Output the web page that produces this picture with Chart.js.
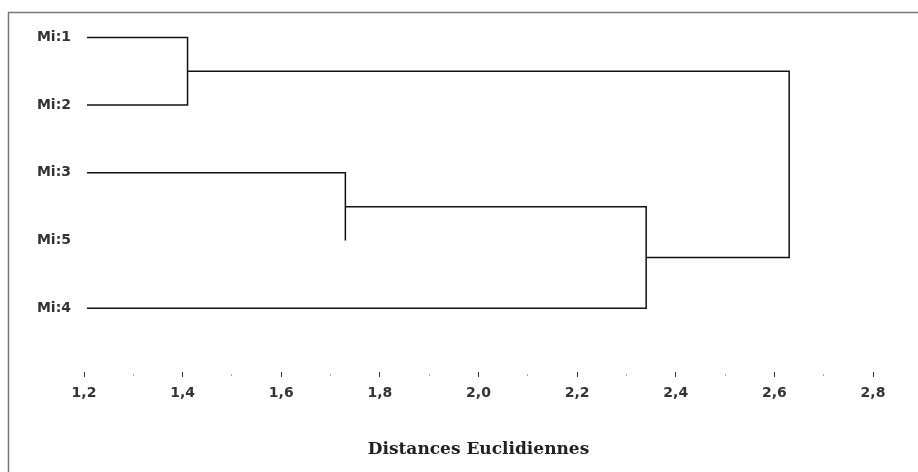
<!DOCTYPE html>
<html>
<head>
<meta charset="utf-8">
<script src="https://cdn.jsdelivr.net/npm/chart.js@4/dist/chart.umd.min.js"></script>
<style>
  body { margin: 0; background: #fff; }
</style>
</head>
<body>
<canvas id="dendro" width="918" height="472"></canvas>
<script>
// feuilles dans l'ordre d'affichage (haut -> bas)
const leaves = ['Mi:1', 'Mi:2', 'Mi:3', 'Mi:5', 'Mi:4'];
const leafStart = 1.206;
// le trait horizontal de Mi:5 n'apparait pas sur l'original
const leafStem = [true, true, true, false, true];

// fusions : noeuds 0-4 = feuilles, 5.. = groupes
const mergePairs = [[0, 1], [2, 3], [6, 4], [5, 7]];
const mergeHeights = [1.41, 1.73, 2.34, 2.63];

const xTicks = [1.2, 1.3, 1.4, 1.5, 1.6, 1.7, 1.8, 1.9, 2.0, 2.1, 2.2, 2.3, 2.4, 2.5, 2.6, 2.7, 2.8];
const xLabels = ['1,2', '', '1,4', '', '1,6', '', '1,8', '', '2,0', '', '2,2', '', '2,4', '', '2,6', '', '2,8'];

// position de chaque noeud
const nodeX = leaves.map(() => leafStart);
const nodeY = leaves.map((_, i) => i);
const datasets = [];
mergePairs.forEach(([a, b], k) => {
    const h = mergeHeights[k];
    const pts = [];
    if (a >= leaves.length || leafStem[a]) pts.push({ x: nodeX[a], y: nodeY[a] });
    pts.push({ x: h, y: nodeY[a] });
    pts.push({ x: h, y: nodeY[b] });
    if (b >= leaves.length || leafStem[b]) pts.push({ x: nodeX[b], y: nodeY[b] });
    nodeX.push(h);
    nodeY.push((nodeY[a] + nodeY[b]) / 2);
    datasets.push({
        data: pts,
        showLine: true,
        borderColor: '#111',
        borderWidth: 1.5,
        pointRadius: 0,
        tension: 0,
        clip: false
    });
});

const frame = {
    id: 'frame',
    afterDraw(chart) {
        const c = chart.ctx;
        c.save();
        c.strokeStyle = '#777';
        c.lineWidth = 1.5;
        c.beginPath();
        c.moveTo(8.5, 472);
        c.lineTo(8.5, 12.5);
        c.lineTo(918, 12.5);
        c.stroke();
        c.restore();
    }
};

new Chart(document.getElementById('dendro'), {
    type: 'scatter',
    data: { datasets },
    plugins: [frame],
    options: {
        responsive: false,
        animation: false,
        layout: { padding: { top: 13, right: 45, left: 0, bottom: 0 } },
        plugins: { legend: { display: false }, tooltip: { enabled: false } },
        scales: {
            x: {
                type: 'linear',
                min: 1.2,
                max: 2.8,
                afterFit: s => { s.height = 100; },
                afterBuildTicks: s => { s.ticks = xTicks.map(v => ({ value: v })); },
                border: { display: false },
                grid: {
                    display: true,
                    drawOnChartArea: false,
                    drawTicks: true,
                    tickLength: 5,
                    tickWidth: 1,
                    tickColor: ctx => (ctx.index % 2 === 0 ? '#333' : '#aaa'),
                    tickBorderDash: ctx => (ctx.index % 2 === 0 ? [] : [0, 2, 2, 10])
                },
                ticks: {
                    padding: 8,
                    maxRotation: 0,
                    autoSkip: false,
                    color: '#333',
                    font: { family: 'DejaVu Sans', size: 14, weight: 'bold' },
                    callback: (v, i) => xLabels[i]
                },
                title: {
                    display: true,
                    text: 'Distances Euclidiennes',
                    color: '#222',
                    font: { family: 'DejaVu Serif', size: 17, weight: 'bold' },
                    padding: { top: 0, bottom: 12 }
                }
            },
            y: {
                type: 'linear',
                reverse: true,
                min: -0.36,
                max: 4.94,
                afterFit: s => { s.width = 84; s.paddingTop = 0; s.paddingBottom = 0; },
                afterBuildTicks: s => { s.ticks = leaves.map((_, i) => ({ value: i })); },
                border: { display: false },
                grid: { display: false, drawTicks: false },
                ticks: {
                    padding: 13,
                    color: '#333',
                    font: { family: 'DejaVu Sans', size: 14, weight: 'bold' },
                    callback: v => leaves[v]
                }
            }
        }
    }
});
</script>
</body>
</html>
